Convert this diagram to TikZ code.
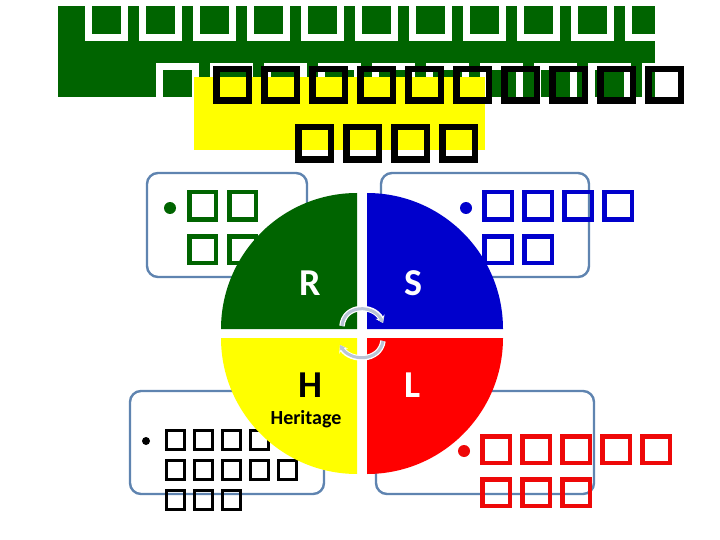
\documentclass[tikz,border=0pt]{standalone}
\usepackage{fontspec}
\setmainfont{Carlito}
\usetikzlibrary{arrows.meta}
\definecolor{dgreen}{HTML}{006400}
\definecolor{dblue}{HTML}{0000CC}
\definecolor{dred}{HTML}{EE0808}
\definecolor{pureyellow}{HTML}{FFFF00}
\definecolor{purered}{HTML}{FF0000}
\definecolor{frameblue}{HTML}{5F84B0}
\definecolor{arrowgrey}{HTML}{B9C4D6}
\tikzset{
  framebox/.style={draw=frameblue,line width=2.4pt,rounded corners=11pt},
  letter/.style={inner sep=0pt,font=\bfseries\fontsize{38}{38}\selectfont},
  white casing/.style={draw=white,line width=5.5pt,-{Stealth[length=7pt,width=10pt]}},
  grey arc/.style={draw=arrowgrey,line width=3pt,-{Stealth[length=5pt,width=6.5pt]}},
}
% outer left x, outer top y, outer width, outer height, stroke, colour
\newcommand{\tofu}[6]{%
  \draw[#6,line width=#5pt]
    ({#1+#5/2},{#2+#5/2}) rectangle ({#1+#3-#5/2},{#2+#4-#5/2});}
\begin{document}
\begin{tikzpicture}[x=1pt,y=-1pt]
\useasboundingbox (0,0) rectangle (720,540);
\fill[white] (0,0) rectangle (720,540);
% title banner
\fill[dgreen] (58,6) rectangle (655,97);
\begin{scope}
  \clip (58,0) rectangle (655,97);
  \foreach \i in {0,...,10} {\tofu{85+54*\i}{-1}{43}{42}{7}{white}}
  \foreach \i in {0,...,9} {\tofu{156+54*\i}{63}{43}{42}{7}{white}}
\end{scope}
\fill[pureyellow] (194,77) rectangle (485,150);
\foreach \i in {0,...,9} {\tofu{213+48*\i}{66}{39}{38}{6.5}{black}}
\foreach \i in {0,...,3} {\tofu{295+48*\i}{124}{39}{39}{6.5}{black}}
% frames
\draw[framebox] (147,173) rectangle (307,277);
\draw[framebox] (381,173) rectangle (589,277);
\draw[framebox] (130,391) rectangle (324,494);
\draw[framebox] (376,391) rectangle (594,494);
% frame text
\fill[dgreen] (170,208) circle (6);
\foreach \i in {0,1} {\tofu{187+40*\i}{190}{31}{32}{4.5}{dgreen}}
\foreach \i in {0,1} {\tofu{187+40*\i}{234}{31}{31}{4.5}{dgreen}}
\fill[dblue] (466,208) circle (6);
\foreach \i in {0,...,3} {\tofu{482+40*\i}{190}{32}{32}{4.5}{dblue}}
\foreach \i in {0,1} {\tofu{482+40*\i}{234}{32}{31}{4.5}{dblue}}
\fill[black] (146,441) circle (4);
\foreach \i in {0,...,3} {\tofu{165+28*\i}{429}{20.5}{22}{2.8}{black}}
\foreach \i in {0,...,4} {\tofu{165+28*\i}{459}{20.5}{22}{2.8}{black}}
\foreach \i in {0,...,2} {\tofu{165+28*\i}{489}{20.5}{22}{2.8}{black}}
\fill[dred] (464,451) circle (6);
\foreach \i in {0,...,4} {\tofu{480+40*\i}{434}{32}{31}{4.5}{dred}}
\foreach \i in {0,...,2} {\tofu{480+40*\i}{477}{32}{31}{4.5}{dred}}
% quadrants
\fill[dgreen] (357,329) -- (221,329) .. controls (221,254) and (282,193) .. (357,193) -- cycle;
\fill[dblue] (367,329) -- (503,329) .. controls (503,254) and (442,193) .. (367,193) -- cycle;
\fill[pureyellow] (357,338) -- (221,338) .. controls (221,413) and (282,474) .. (357,474) -- cycle;
\fill[purered] (367,338) -- (503,338) .. controls (503,413) and (442,474) .. (367,474) -- cycle;
% letters
\node[letter,text=white] (r) at (310,283) {R};
\node[letter,text=white] (s) at (413,283) {S};
\node[letter,text=black] (h) at (310,385) {H};
\node[letter,text=white] (l) at (413,385) {L};
\node[inner sep=0pt,font=\bfseries\fontsize{20}{20}\selectfont] (heritage) at (306,419.5) {Heritage};
% cycle arrows
\coordinate (ta) at (342,326);
\coordinate (tb) at (383,323);
\coordinate (ba) at (383,341);
\coordinate (bb) at (340,345);
\draw[white casing] (ta) .. controls (344,304) and (374,304) .. (tb);
\draw[white casing] (ba) .. controls (380,362) and (350,362) .. (bb);
\draw[grey arc] (ta) .. controls (344,304) and (374,304) .. (tb);
\draw[grey arc] (ba) .. controls (380,362) and (350,362) .. (bb);
\end{tikzpicture}
\end{document}
